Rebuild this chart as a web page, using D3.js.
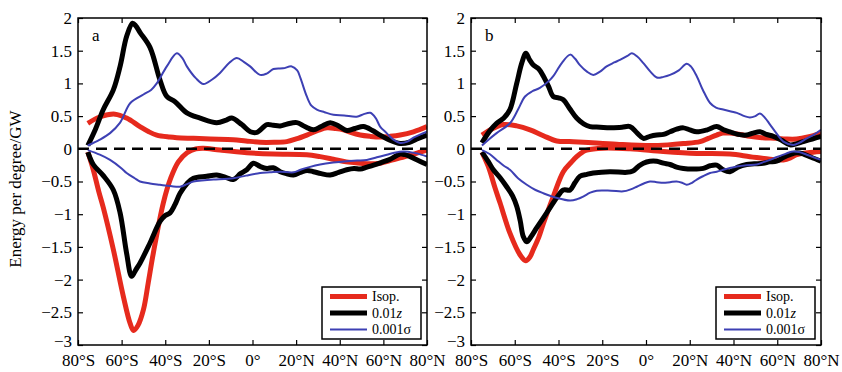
<!DOCTYPE html>
<html>
<head>
<meta charset="utf-8">
<script src="https://cdn.jsdelivr.net/npm/d3@7"></script>
<style>
  html, body { margin: 0; padding: 0; background: #fff; }
  svg { display: block; }
  text { font-family: "Liberation Serif", "Times New Roman", serif; fill: #000; }
</style>
</head>
<body>
<svg id="chart" width="842" height="372"></svg>
<script>
// Latitude ticks and energy ticks
const latTicks = [-80, -60, -40, -20, 0, 20, 40, 60, 80];
const energyTicks = [2, 1.5, 1, 0.5, 0, -0.5, -1, -1.5, -2, -2.5, -3];
const seriesNames = ["Isop.", "0.01z", "0.001σ"];

// Panel a: [latitude, energy per degree (GW)]
const isopUpA = [[-75.5,0.39],[-69.8,0.49],[-63,0.53],[-57.7,0.47],[-51.6,0.34],[-47.5,0.26],[-43.9,0.21],[-38,0.18],[-34.7,0.17],[-27,0.16],[-19.4,0.15],[-8.8,0.14],[-3,0.12],[3.5,0.10],[10,0.10],[15.7,0.11],[20,0.15],[24.9,0.21],[30,0.28],[34.1,0.32],[38,0.31],[41.7,0.29],[45,0.25],[49.4,0.21],[54,0.19],[58.5,0.18],[63,0.19],[67.7,0.21],[73.8,0.26],[80,0.34]];
const isopDownA = [[-75.5,-0.05],[-73,-0.32],[-70.5,-0.65],[-68.4,-0.9],[-63.8,-1.54],[-59.2,-2.26],[-56.1,-2.67],[-54.5,-2.78],[-52.5,-2.7],[-50,-2.46],[-47.8,-2.05],[-45.5,-1.6],[-40.9,-0.83],[-37.5,-0.45],[-34,-0.2],[-30,-0.06],[-26,0.0],[-22.5,0.01],[-14.9,-0.02],[-2.6,-0.06],[9.6,-0.08],[24.9,-0.09],[31,-0.12],[37.1,-0.16],[43,-0.2],[49.4,-0.22],[54,-0.23],[58.5,-0.22],[63,-0.18],[67.7,-0.14],[74,-0.08],[80,-0.02]];
const zUpA = [[-75.5,0.05],[-72,0.3],[-68.4,0.6],[-63.8,0.9],[-60.7,1.26],[-57.7,1.72],[-55,1.92],[-53.5,1.88],[-51.6,1.78],[-47,1.55],[-42.4,1.05],[-39.3,0.8],[-35.5,0.72],[-30.1,0.55],[-24,0.47],[-16.4,0.40],[-12,0.44],[-9.5,0.47],[-4.9,0.37],[-1,0.26],[2,0.25],[6.6,0.37],[9.5,0.36],[12.7,0.35],[16,0.38],[20.3,0.40],[24,0.34],[27.9,0.29],[31.5,0.34],[35.6,0.40],[39.5,0.35],[43.2,0.28],[47,0.31],[50.9,0.34],[55,0.28],[58.5,0.21],[63,0.13],[67.7,0.08],[72,0.1],[76,0.16],[80,0.21]];
const zDownA = [[-75.5,-0.05],[-73,-0.24],[-68.4,-0.41],[-63.8,-0.63],[-60.7,-0.98],[-57.7,-1.6],[-55.4,-1.95],[-53.5,-1.85],[-51.6,-1.75],[-47,-1.44],[-42.4,-1.11],[-40,-1.02],[-37.8,-0.98],[-35.5,-0.85],[-33.2,-0.68],[-30,-0.53],[-27.1,-0.45],[-21,-0.42],[-16.4,-0.40],[-12,-0.44],[-8.8,-0.47],[-5.5,-0.38],[-2.6,-0.32],[0.4,-0.22],[3.5,-0.27],[6.6,-0.30],[9.5,-0.29],[12.7,-0.35],[15.5,-0.38],[18.8,-0.40],[22,-0.36],[25,-0.33],[27.9,-0.35],[31.5,-0.38],[35.6,-0.40],[39.5,-0.36],[43.2,-0.32],[46.5,-0.30],[49.4,-0.31],[52.5,-0.28],[55.5,-0.25],[59,-0.21],[63.1,-0.16],[67.7,-0.08],[70,-0.09],[72.3,-0.12],[76,-0.18],[80,-0.24]];
const sigUpA = [[-75.5,0.05],[-70,0.14],[-65.3,0.24],[-60.7,0.4],[-56,0.7],[-50,0.83],[-46.5,0.9],[-43.9,1.0],[-39.3,1.26],[-34.7,1.46],[-32,1.38],[-30.1,1.26],[-26,1.08],[-22.5,0.99],[-18.5,1.06],[-14.9,1.16],[-10.5,1.32],[-7.2,1.39],[-4,1.33],[-1.1,1.26],[3.5,1.13],[6.5,1.15],[9.6,1.22],[14,1.23],[18,1.26],[20.5,1.2],[22,1.08],[24.9,0.80],[27,0.66],[29.5,0.60],[33,0.56],[37.1,0.52],[42,0.51],[47.8,0.49],[51,0.53],[54,0.55],[56.5,0.47],[58.5,0.34],[61.5,0.24],[64.6,0.14],[67.7,0.09],[71,0.11],[73.8,0.17],[77,0.22],[80,0.26]];
const sigDownA = [[-75.5,-0.02],[-70,-0.09],[-65.3,-0.17],[-60,-0.3],[-57.7,-0.37],[-54,-0.45],[-51.6,-0.50],[-47,-0.53],[-42.4,-0.55],[-37.5,-0.57],[-33.2,-0.58],[-30,-0.54],[-27.1,-0.50],[-22,-0.48],[-17.9,-0.47],[-8.8,-0.45],[-3,-0.41],[3.5,-0.37],[8,-0.36],[12.7,-0.35],[18.8,-0.36],[22,-0.32],[26,-0.28],[31,-0.24],[37,-0.21],[43.2,-0.19],[48,-0.18],[52.4,-0.17],[57,-0.13],[61.6,-0.09],[65,-0.06],[69.2,-0.04],[72,-0.05],[75.4,-0.07],[80,-0.12]];

// Panel b
const isopUpB = [[-75,0.21],[-70,0.31],[-65.2,0.37],[-59.1,0.35],[-53,0.29],[-46.9,0.20],[-40.8,0.12],[-35,0.11],[-28.7,0.10],[-13.4,0.07],[1.8,0.05],[10,0.06],[17.1,0.08],[24.7,0.11],[28.5,0.16],[32.3,0.21],[35,0.24],[38.4,0.24],[43,0.22],[47.5,0.19],[53,0.17],[59.7,0.16],[64,0.15],[68.9,0.15],[74,0.18],[80,0.24]];
const isopDownB = [[-75,-0.05],[-72.1,-0.27],[-69,-0.6],[-66.7,-0.83],[-62.2,-1.29],[-57.6,-1.62],[-55,-1.71],[-53,-1.65],[-51.5,-1.54],[-49,-1.35],[-46.9,-1.14],[-42.4,-0.73],[-37.8,-0.35],[-34,-0.2],[-31.7,-0.12],[-29,-0.05],[-27.1,-0.02],[-19.5,0.01],[-7.3,0.0],[7.9,-0.04],[23.2,-0.07],[38.4,-0.08],[47.5,-0.12],[56.7,-0.16],[62.8,-0.17],[66,-0.14],[68.9,-0.09],[74,-0.06],[80,-0.04]];
const zUpB = [[-75,0.09],[-71.5,0.27],[-68.3,0.39],[-65,0.47],[-62.2,0.6],[-59.1,1.0],[-56.8,1.31],[-54.9,1.46],[-53.2,1.36],[-51.5,1.28],[-49,1.22],[-46.9,1.11],[-44.5,0.95],[-42.4,0.80],[-40,0.78],[-37.8,0.75],[-35,0.62],[-31.7,0.47],[-28.5,0.38],[-25.6,0.34],[-21,0.33],[-16.5,0.32],[-11,0.33],[-7.3,0.34],[-4,0.24],[-1.2,0.16],[1.8,0.19],[4.9,0.21],[8,0.22],[11,0.26],[14,0.3],[17.1,0.32],[20,0.29],[23.2,0.26],[28,0.29],[32.3,0.34],[35.5,0.29],[38.4,0.26],[42,0.22],[46,0.21],[49,0.24],[52.1,0.26],[55,0.22],[58.2,0.19],[62,0.13],[65.8,0.06],[69,0.08],[71.9,0.11],[76,0.15],[80,0.19]];
const zDownB = [[-75,-0.05],[-72,-0.2],[-69.8,-0.32],[-66.5,-0.45],[-63.7,-0.58],[-61,-0.72],[-59.1,-0.88],[-57.5,-1.1],[-56.1,-1.34],[-54.5,-1.42],[-52.5,-1.34],[-50,-1.21],[-45.4,-0.98],[-40.8,-0.75],[-37.8,-0.63],[-34.7,-0.63],[-32.5,-0.52],[-30.2,-0.42],[-27,-0.39],[-24.1,-0.37],[-16.5,-0.35],[-8.8,-0.36],[-6,-0.34],[-3.5,-0.27],[-1.2,-0.22],[1.8,-0.19],[4.9,-0.19],[8,-0.22],[11,-0.24],[14,-0.28],[17.1,-0.30],[21,-0.31],[26.2,-0.30],[29.3,-0.26],[32.3,-0.25],[35.3,-0.32],[38.4,-0.35],[42,-0.28],[46,-0.24],[49.5,-0.23],[53.6,-0.22],[56.5,-0.2],[59.7,-0.19],[63,-0.13],[65.8,-0.09],[68.9,-0.06],[72,-0.08],[75.5,-0.13],[80,-0.19]];
const sigUpB = [[-75,0.05],[-72,0.14],[-68.3,0.24],[-62.2,0.39],[-58.5,0.6],[-55.3,0.8],[-52,0.88],[-48.5,0.93],[-44,1.05],[-42.4,1.11],[-38.5,1.31],[-34.7,1.44],[-32.5,1.38],[-30.2,1.28],[-27,1.18],[-24.1,1.13],[-21,1.18],[-18,1.26],[-14.5,1.32],[-11.9,1.36],[-8.5,1.42],[-6.5,1.46],[-4,1.41],[-1.2,1.31],[2,1.18],[4.9,1.09],[8,1.1],[11,1.13],[15,1.2],[18.6,1.30],[20.5,1.26],[23.2,1.11],[26,0.9],[29.3,0.70],[32,0.63],[35.3,0.6],[41.5,0.55],[45,0.5],[47.5,0.48],[50,0.5],[52.1,0.54],[54.5,0.47],[56.7,0.37],[60,0.22],[62.8,0.11],[67.3,0.06],[70,0.09],[73.5,0.16],[77,0.22],[80,0.29]];
const sigDownB = [[-75,-0.02],[-71.5,-0.08],[-68.3,-0.17],[-65,-0.26],[-62.2,-0.32],[-58.5,-0.45],[-54.5,-0.55],[-50.5,-0.63],[-46.9,-0.68],[-40.8,-0.75],[-34.7,-0.79],[-31.5,-0.77],[-28.7,-0.73],[-25.5,-0.67],[-22.5,-0.64],[-16,-0.64],[-10.4,-0.65],[-7,-0.62],[-4.2,-0.58],[-1,-0.53],[1.8,-0.50],[4.9,-0.51],[7.9,-0.52],[11,-0.51],[14,-0.50],[16.5,-0.52],[18.6,-0.55],[21,-0.52],[23.2,-0.47],[26,-0.42],[29.3,-0.37],[32.3,-0.35],[36.5,-0.31],[41.5,-0.27],[46,-0.25],[50.6,-0.24],[54,-0.2],[56.7,-0.17],[59.5,-0.13],[62.8,-0.09],[65,-0.06],[67.3,-0.04],[70,-0.05],[73.5,-0.09],[80,-0.17]];

const colors = { isop: "#e62a1d", z: "#000000", sig: "#3d40b4" };
const widths = { isop: 5, z: 5, sig: 2 };

const panels = [
  { label: "a", left: 78, right: 427, isop: [isopUpA, isopDownA], z: [zUpA, zDownA], sig: [sigUpA, sigDownA] },
  { label: "b", left: 471, right: 821, isop: [isopUpB, isopDownB], z: [zUpB, zDownB], sig: [sigUpB, sigDownB] }
];
const plotTop = 18, plotBottom = 345;

const svg = d3.select("#chart");
const fontSize = 17;

const latFmt = d => d === 0 ? "0°" : Math.abs(d) + "°" + (d < 0 ? "S" : "N");
const numFmt = d3.format("");

panels.forEach(p => {
  const x = d3.scaleLinear().domain([-80, 80]).range([p.left, p.right]);
  const y = d3.scaleLinear().domain([-3, 2]).range([plotBottom, plotTop]);
  const g = svg.append("g");

  // axes with inward ticks on all four sides
  const ax = [
    g.append("g").attr("transform", `translate(0,${plotBottom})`)
      .call(d3.axisBottom(x).tickValues(latTicks).tickSizeInner(-5).tickSizeOuter(0).tickPadding(11).tickFormat(latFmt)),
    g.append("g").attr("transform", `translate(0,${plotTop})`)
      .call(d3.axisTop(x).tickValues(latTicks).tickSizeInner(-5).tickSizeOuter(0).tickFormat("")),
    g.append("g").attr("transform", `translate(${p.left},0)`)
      .call(d3.axisLeft(y).tickValues(energyTicks).tickSizeInner(-5).tickSizeOuter(0).tickPadding(6).tickFormat(numFmt)),
    g.append("g").attr("transform", `translate(${p.right},0)`)
      .call(d3.axisRight(y).tickValues(energyTicks).tickSizeInner(-5).tickSizeOuter(0).tickFormat(""))
  ];
  ax.forEach(a => {
    a.select(".domain").remove();
    a.selectAll("line").attr("stroke", "#000").attr("stroke-width", 1.2);
    a.selectAll("text").attr("font-size", fontSize).attr("font-family", "Liberation Serif, serif").attr("fill", "#000");
  });
  // bottom labels sit a little lower; the lowest y label nudged up so they do not collide
  ax[0].selectAll("text").attr("dy", "0.6em");
  ax[2].selectAll(".tick").filter(d => d === -3).select("text").attr("dy", "0.1em");

  const line = d3.line().x(d => x(d[0])).y(d => y(d[1])).curve(d3.curveCatmullRom.alpha(0.5));

  const clipId = "clip-" + p.label;
  svg.append("clipPath").attr("id", clipId).append("rect")
    .attr("x", p.left).attr("y", plotTop).attr("width", p.right - p.left).attr("height", plotBottom - plotTop);
  const plot = g.append("g").attr("clip-path", `url(#${clipId})`);

  const drawSeries = key => {
    p[key].forEach(arr => {
      plot.append("path").datum(arr).attr("d", line)
        .attr("fill", "none").attr("stroke", colors[key]).attr("stroke-width", widths[key])
        .attr("stroke-linejoin", "round");
    });
  };

  drawSeries("isop");
  // zero reference line
  plot.append("line")
    .attr("x1", x(-80)).attr("x2", x(80)).attr("y1", y(0)).attr("y2", y(0))
    .attr("stroke", "#000").attr("stroke-width", 2.5).attr("stroke-dasharray", "11,7");
  drawSeries("z");
  drawSeries("sig");

  // frame
  g.append("rect").attr("x", p.left).attr("y", plotTop)
    .attr("width", p.right - p.left).attr("height", plotBottom - plotTop)
    .attr("fill", "none").attr("stroke", "#000").attr("stroke-width", 1.5);

  // panel letter
  g.append("text").attr("x", p.left + 14).attr("y", 41).attr("font-size", fontSize).text(p.label);

  // legend
  const lx = p.right - 105, ly = 287, lw = 99, lh = 52;
  const leg = g.append("g");
  leg.append("rect").attr("x", lx).attr("y", ly).attr("width", lw).attr("height", lh)
    .attr("fill", "#fff").attr("stroke", "#000").attr("stroke-width", 1.5);
  const keys = ["isop", "z", "sig"];
  keys.forEach((k, i) => {
    const ry = ly + 9.5 + i * 16.5;
    leg.append("line").attr("x1", lx + 8).attr("x2", lx + 45).attr("y1", ry).attr("y2", ry)
      .attr("stroke", colors[k]).attr("stroke-width", widths[k]);
    const t = leg.append("text").attr("x", lx + 50).attr("y", ry + 4.5).attr("font-size", 14);
    if (k === "z") {
      t.append("tspan").text(seriesNames[i].slice(0, -1));
      t.append("tspan").attr("font-style", "italic").text(seriesNames[i].slice(-1));
    } else {
      t.text(seriesNames[i]);
    }
  });
});

// y-axis title
svg.append("text")
  .attr("transform", "translate(21,189) rotate(-90)")
  .attr("text-anchor", "middle").attr("font-size", fontSize)
  .text("Energy per degree/GW");
</script>
</body>
</html>
